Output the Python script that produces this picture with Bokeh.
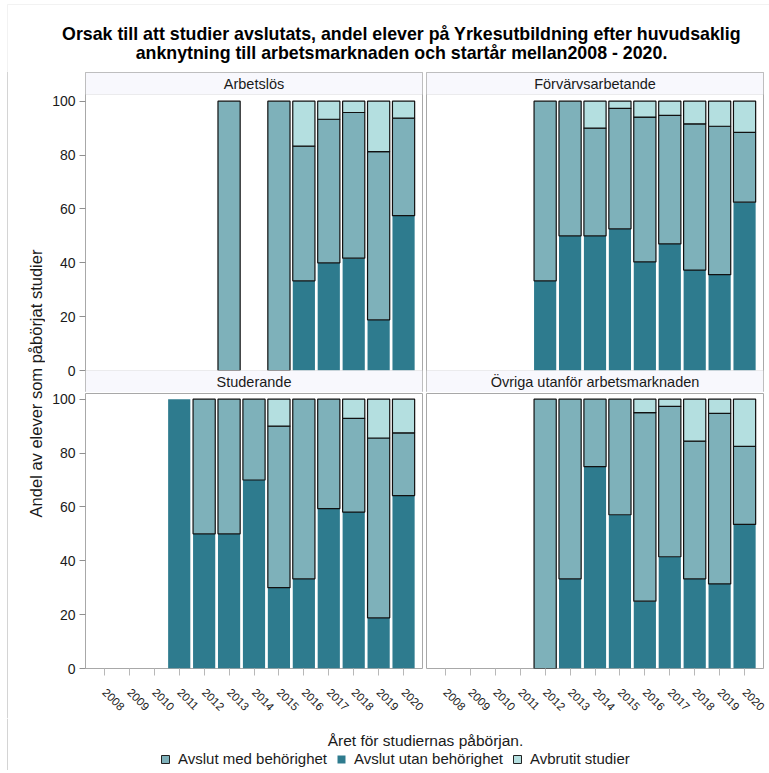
import numpy as np
from bokeh.plotting import figure
from bokeh.models import (ColumnDataSource, FactorRange, Range1d, FixedTicker,
                          BoxAnnotation, Label, Legend, LegendItem, Span)
from bokeh.layouts import column, row
from bokeh.embed import file_html
from bokeh.resources import INLINE

# ---------------- data ----------------
years = ["2008", "2009", "2010", "2011", "2012", "2013", "2014",
         "2015", "2016", "2017", "2018", "2019", "2020"]
series = ["Avslut med behörighet", "Avslut utan behörighet", "Avbrutit studier"]
panel_names = ["Arbetslös", "Förvärvsarbetande", "Studerande",
               "Övriga utanför arbetsmarknaden"]
title_line1 = "Orsak till att studier avslutats, andel elever på Yrkesutbildning efter huvudsaklig"
title_line2 = "anknytning till arbetsmarknaden och startår mellan2008 - 2020."
x_label = "Året för studiernas påbörjan."
y_label = "Andel av elever som påbörjat studier"
y_ticks = [0, 20, 40, 60, 80, 100]

N = None
# Arbetslös
arb_utan = [N, N, N, N, N, 0, N, 0, 33.3, 40.0, 41.7, 18.8, 57.5]
arb_med = [N, N, N, N, N, 100, N, 100, 50.0, 53.3, 54.1, 62.5, 36.2]
arb_avbr = [N, N, N, N, N, 0, N, 0, 16.7, 6.7, 4.2, 18.7, 6.3]
# Förvärvsarbetande
fov_utan = [N, N, N, N, 33.3, 50.0, 50.0, 52.6, 40.3, 47.0, 37.3, 35.6, 62.5]
fov_med = [N, N, N, N, 66.7, 50.0, 40.0, 44.7, 53.8, 47.7, 54.3, 55.1, 25.9]
fov_avbr = [N, N, N, N, 0, 0, 10.0, 2.7, 5.9, 5.3, 8.4, 9.3, 11.6]
# Studerande
stu_utan = [N, N, N, 100, 50.0, 50.0, 70.0, 30.0, 33.3, 59.4, 58.1, 18.8, 64.2]
stu_med = [N, N, N, 0, 50.0, 50.0, 30.0, 60.0, 66.7, 40.6, 34.8, 66.8, 23.3]
stu_avbr = [N, N, N, 0, 0, 0, 0, 10.0, 0, 0, 7.1, 14.4, 12.5]
# Övriga utanför arbetsmarknaden
ovr_utan = [N, N, N, N, 0, 33.3, 75.0, 57.1, 25.0, 41.5, 33.3, 31.4, 53.5]
ovr_med = [N, N, N, N, 100, 66.7, 25.0, 42.9, 70.0, 55.8, 51.1, 63.3, 29.0]
ovr_avbr = [N, N, N, N, 0, 0, 0, 0, 5.0, 2.7, 15.6, 5.3, 17.5]

# ---------------- style ----------------
FONT = "Liberation Sans"
C_MED = "#7eb1ba"
C_UTAN = "#2e7b8e"
C_AVBR = "#b4dfe0"
FRAME = "#a8a8a8"
HEAD_FILL = "#f8f8fd"
HEAD_LINE = "#c8c8c8"
OUTER = "#d4d4d4"
TXT = "#1a1a1a"
PXU = 2.693            # pixels per percent unit
HEAD_PX = 22           # header band height in pixels
PLOT_PX = 276          # plot area height (top panels)

TOP_YMAX = (PLOT_PX + HEAD_PX) / PXU
TOP_HEAD = PLOT_PX / PXU
TOP_YMIN = -HEAD_PX / PXU
BOT_YMAX = 275 / PXU


def to_arr(v):
    return np.array([np.nan if a is None else a for a in v], dtype=float)


def header_label(name, y):
    return Label(x=6.5, y=y, text=name, text_align="center",
                 text_baseline="middle", text_font=FONT,
                 text_font_size="14.5px", text_color=TXT)


def make_panel(name, below_name, utan, med, avbr, left, bottom):
    fw = 337
    mbl = 40 if left else 0
    mbr = 4 if left else 6
    if bottom:
        mbt, mbb, fh = 1, 50, 275
        yr = Range1d(0, BOT_YMAX)
    else:
        mbt, mbb, fh = 1, 0, PLOT_PX + 2 * HEAD_PX
        yr = Range1d(TOP_YMIN, TOP_YMAX)
    p = figure(width=fw + mbl + mbr, height=fh + mbt + mbb,
               x_range=FactorRange(factors=years, range_padding=0.04),
               y_range=yr,
               output_backend="svg", toolbar_location=None,
               min_border_left=mbl, min_border_right=mbr,
               min_border_top=mbt, min_border_bottom=mbb,
               x_axis_location="below" if bottom else None,
               y_axis_location="left" if left else None)
    p.outline_line_color = FRAME
    p.outline_line_width = 1
    p.xgrid.visible = False
    p.ygrid.visible = False
    p.background_fill_color = "white"
    p.border_fill_color = "white"

    u = to_arr(utan)
    m = to_arr(med)
    a = to_arr(avbr)
    src = ColumnDataSource(dict(
        x=years,
        u0=np.zeros_like(u), u1=u,
        m0=u, m1=u + m,
        a0=u + m, a1=u + m + a,
        m_la=np.where(m > 0, 1.0, 0.0),
        a_la=np.where(a > 0, 1.0, 0.0),
    ))
    p.vbar(x="x", bottom="u0", top="u1", width=0.89, source=src,
           fill_color=C_UTAN, line_color=None)
    p.vbar(x="x", bottom="m0", top="m1", width=0.89, source=src,
           fill_color=C_MED, line_color="#111111", line_width=1.2,
           line_alpha="m_la")
    p.vbar(x="x", bottom="a0", top="a1", width=0.89, source=src,
           fill_color=C_AVBR, line_color="#111111", line_width=1.2,
           line_alpha="a_la")

    if not bottom:
        # own header band on top
        p.add_layout(BoxAnnotation(bottom=TOP_HEAD, fill_color=HEAD_FILL,
                                   fill_alpha=1, line_color=HEAD_LINE))
        p.add_layout(header_label(name, (TOP_HEAD + TOP_YMAX) / 2))
        # header band of the panel below
        p.add_layout(BoxAnnotation(top=0, fill_color=HEAD_FILL,
                                   fill_alpha=1, line_color=HEAD_LINE))
        p.add_layout(header_label(below_name, TOP_YMIN / 2))

    if left:
        ax = p.yaxis[0]
        ax.ticker = FixedTicker(ticks=y_ticks)
        ax.axis_line_color = None
        ax.major_tick_out = 6
        ax.major_tick_in = 0
        ax.minor_tick_line_color = None
        ax.major_tick_line_color = "#909090"
        ax.major_label_standoff = 4
        ax.major_label_text_font = FONT
        ax.major_label_text_font_size = "14px"
        ax.major_label_text_color = TXT
    if bottom:
        ax = p.xaxis[0]
        ax.axis_line_color = None
        ax.major_tick_out = 7
        ax.major_tick_in = 0
        ax.major_tick_line_color = "#b8b8b8"
        ax.minor_tick_line_color = None
        ax.major_label_orientation = -np.pi / 4
        ax.major_label_standoff = 15
        ax.major_label_text_font = FONT
        ax.major_label_text_font_size = "11.5px"
        ax.major_label_text_color = TXT
    return p


f1 = make_panel(panel_names[0], panel_names[2], arb_utan, arb_med, arb_avbr, True, False)
f2 = make_panel(panel_names[1], panel_names[3], fov_utan, fov_med, fov_avbr, False, False)
f3 = make_panel(panel_names[2], None, stu_utan, stu_med, stu_avbr, True, True)
f4 = make_panel(panel_names[3], None, ovr_utan, ovr_med, ovr_avbr, False, True)

W = 769


def blank(w, h):
    p = figure(width=w, height=h, x_range=Range1d(0, w), y_range=Range1d(0, h),
               output_backend="svg", toolbar_location=None,
               min_border=0, x_axis_location=None, y_axis_location=None)
    p.outline_line_color = None
    p.xgrid.visible = False
    p.ygrid.visible = False
    return p


# title
TH = 71
tfig = blank(W, TH)
tfig.add_layout(BoxAnnotation(left=7, right=W + 20, top=TH - 4, bottom=-20,
                              fill_alpha=0, line_color=OUTER, line_width=1))
tfig.add_layout(Label(x=401, y=TH - 33, text=title_line1, text_align="center",
                      text_baseline="middle", text_font=FONT,
                      text_font_size="17.8px", text_font_style="bold",
                      text_color="black"))
tfig.add_layout(Label(x=401, y=TH - 52, text=title_line2, text_align="center",
                      text_baseline="middle", text_font=FONT,
                      text_font_size="17.8px", text_font_style="bold",
                      text_color="black"))

# y label
YH = f1.height + f3.height
yfig = blank(45, YH)
yfig.add_layout(Span(location=7, dimension="height", line_color=OUTER, line_width=1))
yfig.add_layout(Label(x=35, y=YH - (383 - TH), text=y_label, angle=np.pi / 2,
                      text_align="center", text_baseline="middle",
                      text_font=FONT, text_font_size="16.5px", text_color=TXT))

# footer: x label + legend
FH = 52
ffig = blank(W, FH)
ffig.add_layout(Span(location=7, dimension="height", line_color=OUTER, line_width=1))
ffig.add_layout(Label(x=425, y=FH - 22, text=x_label, text_align="center",
                      text_baseline="middle", text_font=FONT,
                      text_font_size="15.5px", text_color=TXT))
r_med = ffig.vbar(x=[-50], top=[0], width=1, fill_color=C_MED, line_color="#222222")
r_utan = ffig.vbar(x=[-50], top=[0], width=1, fill_color=C_UTAN, line_color=None)
r_avbr = ffig.vbar(x=[-50], top=[0], width=1, fill_color=C_AVBR, line_color="#222222")
legend = Legend(items=[LegendItem(label=series[0], renderers=[r_med]),
                       LegendItem(label=series[1], renderers=[r_utan]),
                       LegendItem(label=series[2], renderers=[r_avbr])],
                orientation="horizontal", location=(160, 3),
                padding=0, margin=0, spacing=9, label_standoff=8,
                glyph_width=10, glyph_height=10, label_height=14,
                label_text_font=FONT, label_text_font_size="15px",
                label_text_color=TXT, border_line_color=None,
                background_fill_alpha=0)
ffig.add_layout(legend)

layout = column(tfig, row(yfig, column(row(f1, f2), row(f3, f4))), ffig)

with open("out.html", "w") as fh:
    fh.write(file_html(layout, INLINE))
